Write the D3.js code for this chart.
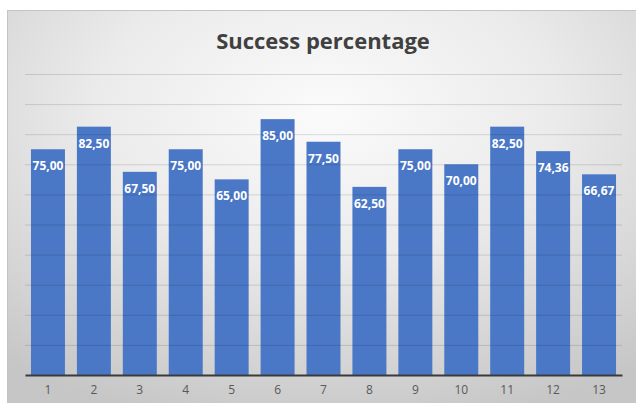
<!DOCTYPE html>
<html>
<head>
<meta charset="utf-8">
<script src="https://cdn.jsdelivr.net/npm/d3@7"></script>
<style>
  body { margin: 0; background: #fff; }
  svg { display: block; }
</style>
</head>
<body>
<div id="okvir"></div>
<script>
// podaci
const kategorije = ["1", "2", "3", "4", "5", "6", "7", "8", "9", "10", "11", "12", "13"]
const vrijednosti = [75.00, 82.50, 67.50, 75.00, 65.00, 85.00, 77.50, 62.50, 75.00, 70.00, 82.50, 74.36, 66.67]
const yTickovi = [0, 10, 20, 30, 40, 50, 60, 70, 80, 90, 100]
const naslov = "Success percentage"

const dimenzije = {
  sirina: 636,
  visina: 403,
  margine: { top: 74, right: 14, bottom: 28, left: 25 },
}
dimenzije.grSirina = dimenzije.sirina - dimenzije.margine.left - dimenzije.margine.right
dimenzije.grVisina = dimenzije.visina - dimenzije.margine.top - dimenzije.margine.bottom

const okvir = d3.select("#okvir")
  .append("svg")
    .attr("width", dimenzije.sirina)
    .attr("height", dimenzije.visina)

// pozadina s gradijentom
const defs = okvir.append("defs")
const grad = defs.append("radialGradient")
  .attr("id", "pozadina")
  .attr("cx", "50%").attr("cy", "25%").attr("r", "80%")
grad.append("stop").attr("offset", "0%").attr("stop-color", "#fbfbfb")
grad.append("stop").attr("offset", "45%").attr("stop-color", "#ebebeb")
grad.append("stop").attr("offset", "100%").attr("stop-color", "#c6c6c6")

okvir.append("rect")
  .attr("x", 7.5)
  .attr("y", 10.5)
  .attr("width", dimenzije.sirina)
  .attr("height", dimenzije.visina)
  .attr("fill", "url(#pozadina)")
  .attr("stroke", "#c4c4c4")

okvir.append("text")
  .attr("x", 323)
  .attr("y", 49)
  .attr("text-anchor", "middle")
  .attr("fill", "#404040")
  .style("font-family", "'Open Sans', sans-serif")
  .style("font-weight", "bold")
  .style("font-size", "22px")
  .text(naslov)

const granice = okvir.append("g")
  .attr("transform", `translate(${dimenzije.margine.left}, ${dimenzije.margine.top})`)

// razmjeri
const xSkala = d3.scaleBand()
  .domain(kategorije)
  .range([0, dimenzije.grSirina])
  .paddingInner(0.26)
  .paddingOuter(0.13)

const ySkala = d3.scaleLinear()
  .domain([0, 100])
  .range([dimenzije.grVisina, 0])

// stupci
granice.selectAll("rect.stupac")
  .data(vrijednosti)
  .join("rect")
    .attr("class", "stupac")
    .attr("x", (d, i) => xSkala(kategorije[i]))
    .attr("y", d => ySkala(d))
    .attr("width", xSkala.bandwidth())
    .attr("height", d => dimenzije.grVisina - ySkala(d))
    .attr("fill", "#4a78c7")

// mreza
const yOsGenerator = d3.axisLeft(ySkala)
  .tickValues(yTickovi.slice(1))
  .tickSize(-dimenzije.grSirina)
  .tickFormat("")

granice.append("g")
  .attr("class", "mreza")
  .call(yOsGenerator)
  .call(g => g.select(".domain").remove())
  .call(g => g.selectAll("line")
    .attr("stroke", "#000")
    .attr("stroke-opacity", 0.13))

// x os
const xOsGenerator = d3.axisBottom(xSkala).tickSize(0).tickPadding(10)
const xOs = granice.append("g")
  .attr("transform", `translate(0, ${dimenzije.grVisina})`)
  .call(xOsGenerator)
xOs.select(".domain")
  .attr("stroke", "#3a3a3a")
  .attr("stroke-width", 2)
xOs.selectAll("text")
  .attr("fill", "#595959")
  .style("font-family", "'Open Sans', sans-serif")
  .style("font-size", "12px")

// oznake vrijednosti
const Format = v => d3.format(".2f")(v).replace(".", ",")
granice.selectAll("text.oznaka")
  .data(vrijednosti)
  .join("text")
    .attr("class", "oznaka")
    .attr("x", (d, i) => xSkala(kategorije[i]) + xSkala.bandwidth() / 2)
    .attr("y", d => ySkala(d) + 21)
    .attr("text-anchor", "middle")
    .attr("fill", "#fff")
    .style("font-family", "'Open Sans', sans-serif")
    .style("font-weight", "bold")
    .style("font-size", "12px")
    .text(d => Format(d))
</script>
</body>
</html>
